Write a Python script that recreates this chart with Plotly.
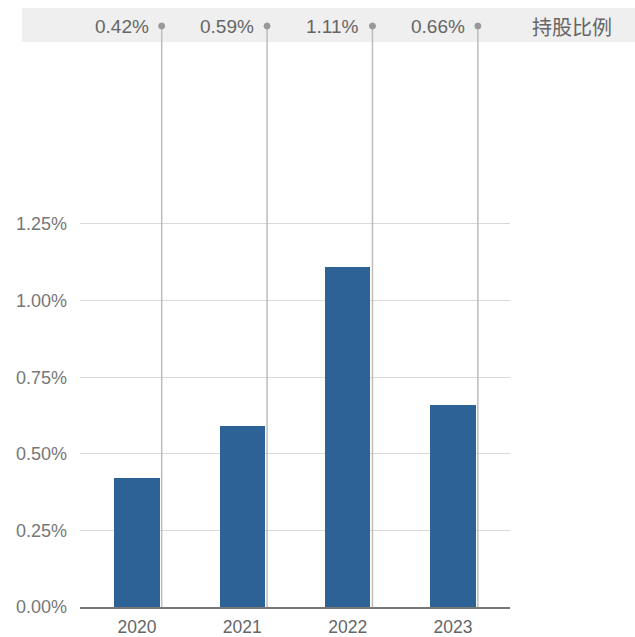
import plotly.graph_objects as go

years = ["2020", "2021", "2022", "2023"]
ratios = [0.42, 0.59, 1.11, 0.66]          # 持股比例 (%)
ratio_labels = ["0.42%", "0.59%", "1.11%", "0.66%"]
y_ticks = [0, 0.25, 0.5, 0.75, 1.0, 1.25]
y_tick_text = ["0.00%", "0.25%", "0.50%", "0.75%", "1.00%", "1.25%"]
header_title = "持股比例"

W, H = 635, 637
M_L, M_R, M_T, M_B = 80, 125, 222, 30
Y_MAX = 1.2565
plot_h = H - M_T - M_B
plot_w = W - M_L - M_R

def py(px):
    """pixel row -> paper y"""
    return (H - M_B - px) / plot_h

def pxx(px):
    """pixel column -> paper x"""
    return (px - M_L) / plot_w

BAR_W = 0.43
LINE_OFF = 0.235
FONT = "Liberation Sans, Arial, sans-serif"

fig = go.Figure()
fig.add_trace(go.Bar(
    x=list(range(len(years))), y=ratios, width=BAR_W,
    marker=dict(color="#2d6296", line=dict(width=0)),
    hoverinfo="skip",
))

shapes = [
    # header band
    dict(type="rect", xref="paper", yref="paper",
         x0=pxx(22), x1=pxx(640), y0=py(42), y1=py(8),
         fillcolor="#efefef", line=dict(width=0), layer="below"),
]
annotations = [
    dict(text=header_title, xref="paper", yref="paper",
         x=pxx(614), y=py(26), xanchor="right", yanchor="middle",
         showarrow=False, font=dict(family="Noto Sans CJK SC", size=20, color="#666666")),
]
for i, lab in enumerate(ratio_labels):
    xl = i + LINE_OFF
    shapes.append(dict(type="line", xref="x", yref="paper",
                       x0=xl, x1=xl, y0=0, y1=py(26),
                       line=dict(color="#bdbdbd", width=1.5), layer="above"))
    # dot at the top end of each leader line (pixel-sized circle)
    shapes.append(dict(type="circle", xref="x", yref="paper",
                       xsizemode="pixel", ysizemode="pixel",
                       xanchor=xl, yanchor=py(26), x0=-3, x1=3, y0=-3, y1=3,
                       fillcolor="#999999", line=dict(color="#999999", width=1)))
    annotations.append(dict(text=lab, xref="x", yref="paper",
                            x=xl, y=py(26), xanchor="right", yanchor="middle",
                            xshift=-11, showarrow=False,
                            font=dict(family=FONT, size=19, color="#666666")))

fig.update_layout(
    width=W, height=H,
    margin=dict(l=M_L, r=M_R, t=M_T, b=M_B, pad=0, autoexpand=False),
    paper_bgcolor="white", plot_bgcolor="white",
    showlegend=False,
    shapes=shapes, annotations=annotations,
    xaxis=dict(tickmode="array", tickvals=list(range(len(years))), ticktext=years,
               range=[-0.54, 3.54], showgrid=False, zeroline=False, automargin=False,
               showline=True, linecolor="#777777", linewidth=1.5,
               ticks="", ticklabelstandoff=3,
               tickfont=dict(family=FONT, size=17.5, color="#666666")),
    yaxis=dict(range=[0, Y_MAX], tickmode="array", tickvals=y_ticks, ticktext=y_tick_text,
               showgrid=True, gridcolor="#d9d9d9", gridwidth=1, zeroline=False,
               showline=False, ticks="", ticklabelstandoff=12, automargin=False,
               tickfont=dict(family=FONT, size=18, color="#777777")),
    bargap=0,
)

fig.write_html("out.html")
